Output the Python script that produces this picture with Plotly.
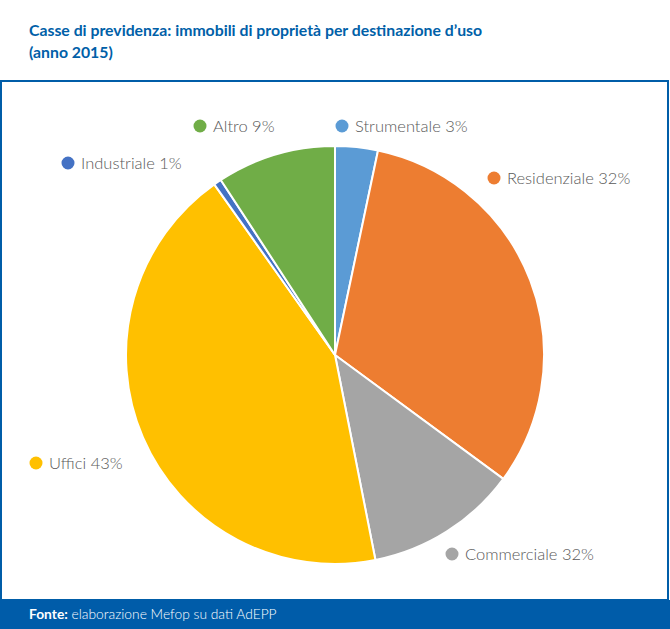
import plotly.graph_objects as go

categories = ["Strumentale", "Residenziale", "Commerciale", "Uffici", "Industriale", "Altro"]
values = [3.3, 31.8, 11.8, 43.3, 0.6, 9.2]
label_texts = ["Strumentale 3%", "Residenziale 32%", "Commerciale 32%", "Uffici 43%", "Industriale 1%", "Altro 9%"]
colors = ["#5B9BD5", "#ED7D31", "#A5A5A5", "#FFC000", "#4472C4", "#70AD47"]

W, H = 670, 629
cx, cy, r = 335, 355, 209

fig = go.Figure()
fig.add_trace(go.Pie(
    labels=categories, values=values, sort=False, direction="clockwise", rotation=0,
    marker=dict(colors=colors, line=dict(color="white", width=2)),
    textinfo="none", hoverinfo="label+percent", showlegend=False,
    domain=dict(x=[(cx - r) / W, (cx + r) / W], y=[1 - (cy + r) / H, 1 - (cy - r) / H]),
))

# label positions (dot center in pixels)
label_pos = {
    "Strumentale": (342, 126),
    "Residenziale": (494, 178),
    "Commerciale": (452, 554),
    "Uffici": (36, 463),
    "Industriale": (68, 163),
    "Altro": (200, 126),
}

def px(x):
    return x / W

def py(y):
    return 1 - y / H

shapes = []
annotations = []
d = 6.5
for cat, txt, col in zip(categories, label_texts, colors):
    x, y = label_pos[cat]
    shapes.append(dict(type="circle", xref="paper", yref="paper",
                       x0=px(x - d), x1=px(x + d), y0=py(y + d), y1=py(y - d),
                       fillcolor=col, line=dict(width=0)))
    annotations.append(dict(x=px(x + 11), y=py(y), xref="paper", yref="paper",
                            text=txt, showarrow=False, xanchor="left", yanchor="middle",
                            font=dict(family="Lato", size=16.5, weight=300, color="#595959")))

# border box
shapes.append(dict(type="rect", xref="paper", yref="paper",
                   x0=px(1), x1=px(668), y0=py(600), y1=py(81),
                   line=dict(color="#005DA8", width=2), fillcolor="rgba(0,0,0,0)", layer="below"))
# footer
shapes.append(dict(type="rect", xref="paper", yref="paper",
                   x0=0, x1=1, y0=0, y1=py(600),
                   line=dict(width=0), fillcolor="#005CA9", layer="below"))

annotations.append(dict(x=px(27), y=py(30), xref="paper", yref="paper",
                        text="<b>Casse di previdenza: immobili di proprietà per destinazione d’uso</b>",
                        showarrow=False, xanchor="left", yanchor="middle",
                        font=dict(family="Lato", size=15.8, color="#0060A8")))
annotations.append(dict(x=px(27), y=py(51), xref="paper", yref="paper",
                        text="<b>(anno 2015)</b>",
                        showarrow=False, xanchor="left", yanchor="middle",
                        font=dict(family="Lato", size=15.8, color="#0060A8")))
annotations.append(dict(x=px(27), y=py(613), xref="paper", yref="paper",
                        text="<b>Fonte:</b> elaborazione Mefop su dati AdEPP",
                        showarrow=False, xanchor="left", yanchor="middle",
                        font=dict(family="Lato", size=13.8, weight=300, color="white")))

fig.update_layout(
    width=W, height=H, margin=dict(l=0, r=0, t=0, b=0),
    paper_bgcolor="white", plot_bgcolor="white",
    shapes=shapes, annotations=annotations,
)

fig.write_html("out.html", config={"displayModeBar": False},
               post_script="document.body.style.margin='0';document.body.style.overflow='hidden';")
